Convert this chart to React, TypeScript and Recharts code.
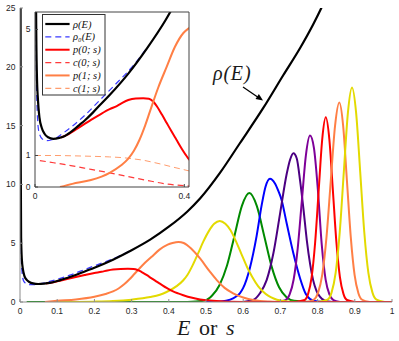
import React from 'react';
import { LineChart, Line, XAxis, YAxis, CartesianGrid, Legend, Customized } from 'recharts';

// ---------- data ----------
const rhoS = [0.001, 0.002, 0.003, 0.005, 0.008, 0.012, 0.018, 0.025, 0.035, 0.049, 0.065, 0.08, 0.1, 0.115, 0.134, 0.155, 0.174, 0.2, 0.25, 0.3, 0.35, 0.4, 0.45, 0.484, 0.538, 0.591, 0.654, 0.708, 0.753, 0.788, 0.81, 0.83];
const rhoV = [40, 12, 5.5, 3.6, 2.75, 2.2, 1.88, 1.7, 1.58, 1.53, 1.56, 1.62, 1.78, 1.93, 2.12, 2.36, 2.6, 2.92, 3.6, 4.4, 5.3, 6.4, 7.7, 8.8, 11.0, 13.5, 16.5, 19.3, 21.6, 23.6, 25.0, 26.4];

const rho0S = [0.002, 0.004, 0.006, 0.009, 0.013, 0.02, 0.03, 0.045, 0.06, 0.08, 0.1, 0.134, 0.174, 0.219, 0.263, 0.3];
const rho0V = [8, 3.3, 2.4, 1.85, 1.65, 1.52, 1.47, 1.5, 1.58, 1.75, 1.93, 2.28, 2.76, 3.3, 3.85, 4.42];

const p0S = [0.07, 0.09, 0.11, 0.129, 0.15, 0.174, 0.2, 0.219, 0.235, 0.25, 0.27, 0.29, 0.305, 0.316, 0.326, 0.34, 0.353, 0.366, 0.379, 0.394, 0.41, 0.425, 0.439, 0.46, 0.484, 0.51, 0.55, 0.6, 0.7, 1.0];
const p0V = [1.57, 1.68, 1.83, 1.97, 2.13, 2.3, 2.47, 2.57, 2.68, 2.76, 2.81, 2.82, 2.8, 2.72, 2.57, 2.3, 2.03, 1.76, 1.5, 1.2, 0.92, 0.73, 0.58, 0.38, 0.22, 0.12, 0.04, 0.01, 0, 0];

const p1S = [0.067, 0.1, 0.15, 0.2, 0.23, 0.25, 0.265, 0.28, 0.295, 0.308, 0.33, 0.353, 0.375, 0.397, 0.41, 0.426, 0.44, 0.46, 0.484, 0.51, 0.529, 0.55, 0.573, 0.6, 0.63, 0.67, 0.72];
const p1V = [0, 0.1, 0.22, 0.45, 0.68, 0.9, 1.15, 1.5, 1.95, 2.4, 3.15, 3.82, 4.45, 4.88, 5.02, 5.11, 5.02, 4.55, 3.7, 2.6, 1.86, 1.2, 0.74, 0.38, 0.15, 0.04, 0];

const p2S = [0.07, 0.15, 0.2, 0.25, 0.3, 0.35, 0.376, 0.394, 0.421, 0.439, 0.45, 0.466, 0.479, 0.493, 0.508, 0.522, 0.537, 0.552, 0.566, 0.58, 0.595, 0.61, 0.624, 0.64, 0.653, 0.668, 0.682, 0.7, 0.72, 0.76];
const p2V = [0, 0.01, 0.03, 0.08, 0.2, 0.42, 0.62, 0.85, 1.35, 1.85, 2.3, 3.25, 4.15, 5.15, 6.05, 6.65, 6.89, 6.65, 6.1, 5.2, 4.1, 3.0, 2.15, 1.35, 0.9, 0.52, 0.3, 0.12, 0.04, 0];

const p3S = [0.018, 0.45, 0.4965, 0.5165, 0.5365, 0.5565, 0.5765, 0.5965, 0.6165, 0.6365, 0.6565, 0.6765, 0.6965, 0.7165, 0.7365, 0.78];
const p3V = [0, 0, 0.12, 0.55, 1.45, 3.1, 5.62, 8.17, 9.26, 8.17, 5.62, 3.01, 1.25, 0.41, 0.1, 0];

const p4S = [0.5, 0.54, 0.565, 0.58, 0.591, 0.6, 0.618, 0.636, 0.65, 0.66, 0.672, 0.685, 0.695, 0.703, 0.717, 0.735, 0.753, 0.768, 0.78, 0.8, 0.82];
const p4V = [0, 0.05, 0.2, 0.45, 0.74, 1.2, 2.9, 5.6, 8.3, 9.8, 10.48, 10.1, 9.4, 8.7, 6.67, 4.12, 2.0, 0.7, 0.25, 0.04, 0];

const p5S = [0.6, 0.627, 0.645, 0.663, 0.681, 0.699, 0.717, 0.726, 0.735, 0.744, 0.753, 0.762, 0.771, 0.78, 0.788, 0.797, 0.806, 0.82, 0.84];
const p5V = [0, 0.17, 0.74, 1.86, 4.12, 7.5, 10.9, 12.1, 12.65, 12.2, 10.3, 7.9, 5.25, 3.2, 1.86, 0.95, 0.45, 0.1, 0];

const p6S = [0.69, 0.7136, 0.7246, 0.7356, 0.7466, 0.7576, 0.7686, 0.7796, 0.7901, 0.8006, 0.8111, 0.8216, 0.8321, 0.8426, 0.86];
const p6V = [0, 0.16, 0.62, 1.91, 4.59, 8.58, 12.49, 14.15, 13.1, 9.6, 4.9, 1.9, 0.62, 0.16, 0];

const p7S = [0.74, 0.765, 0.7745, 0.784, 0.7935, 0.803, 0.8125, 0.822, 0.8315, 0.841, 0.8505, 0.86, 0.8695, 0.879, 0.9];
const p7V = [0, 0.17, 0.69, 2.12, 5.1, 9.52, 13.86, 15.7, 13.86, 9.52, 5.1, 2.12, 0.69, 0.17, 0];

const p8S = [0.77, 0.7894, 0.8009, 0.8124, 0.8239, 0.8354, 0.8469, 0.8584, 0.8687, 0.8789, 0.8892, 0.8994, 0.9097, 0.9199, 0.94];
const p8V = [0, 0.19, 0.75, 2.3, 5.51, 10.29, 14.98, 16.97, 14.98, 10.29, 5.51, 2.3, 0.75, 0.19, 0];

const p9S = [0.8, 0.8265, 0.8375, 0.8485, 0.8595, 0.8705, 0.8815, 0.8925, 0.9035, 0.9145, 0.9255, 0.9365, 0.9475, 0.9585, 0.98];
const p9V = [0, 0.2, 0.8, 2.47, 5.93, 11.07, 16.11, 18.25, 16.11, 11.07, 5.93, 2.47, 0.8, 0.2, 0];

const c0S = [0.013, 0.05, 0.1, 0.15, 0.2, 0.25, 0.3, 0.35, 0.413];
const c0V = [0.84, 0.77, 0.67, 0.56, 0.45, 0.33, 0.21, 0.1, 0.03];

const c1S = [0, 0.05, 0.1, 0.15, 0.2, 0.24, 0.265, 0.29, 0.31, 0.34, 0.37, 0.39, 0.413];
const c1V = [1.0, 1.0, 0.99, 0.975, 0.955, 0.925, 0.89, 0.85, 0.8, 0.72, 0.63, 0.575, 0.51];

const mainXTicks = [0, 0.1, 0.2, 0.3, 0.4, 0.5, 0.6, 0.7, 0.8, 0.9, 1];
const mainXLabels = ['0', '0.1', '0.2', '0.3', '0.4', '0.5', '0.6', '0.7', '0.8', '0.9', '1'];
const mainYTicks = [0, 5, 10, 15, 20, 25];
const mainYLabels = ['0', '5', '10', '15', '20', '25'];
const insetXTicks = [0, 0.4];
const insetXLabels = ['0', '0.4'];
const insetYTicks = [0, 1, 5];
const insetYLabels = ['0', '1', '5'];

const legendNames = ['ρ(E)', 'ρ₀(E)', 'p(0; s)', 'c(0; s)', 'p(1; s)', 'c(1; s)'];
const xLabelParts = ['E', 'or', 's'];
const annotationText = 'ρ(E)';

// ---------- helpers ----------
const zip = (s: number[], v: number[]) => s.map((x, i) => ({ s: x, v: v[i] }));
const lookup = (ticks: number[], labels: string[], v: number) => {
  const i = ticks.findIndex((t) => Math.abs(t - v) < 1e-9);
  return i >= 0 ? labels[i] : String(v);
};

const TICK_FONT = "'Liberation Sans', Arial, sans-serif";
const SERIF = "'Liberation Serif', 'Times New Roman', serif";
const AXIS_GRAY = '#8c8c8c';
const TEXT_GRAY = '#262626';

const makeXTick = (ticks: number[], labels: string[], color: string) => (props: any) => {
  const { x, y, payload } = props;
  return (
    <g>
      <line x1={x} x2={x} y1={y} y2={y - 3} stroke={color} strokeWidth={1} />
      <text x={x} y={y + 12} textAnchor="middle" fontSize={8.5} fontFamily={TICK_FONT} fill={TEXT_GRAY}>
        {lookup(ticks, labels, payload.value)}
      </text>
    </g>
  );
};
const makeYTick = (ticks: number[], labels: string[], color: string) => (props: any) => {
  const { x, y, payload } = props;
  return (
    <g>
      <line x1={x} x2={x + 3} y1={y} y2={y} stroke={color} strokeWidth={1} />
      <text x={x - 4.5} y={y + 3} textAnchor="end" fontSize={8.5} fontFamily={TICK_FONT} fill={TEXT_GRAY}>
        {lookup(ticks, labels, payload.value)}
      </text>
    </g>
  );
};

const COLORS = {
  red: '#ff0000',
  orange: '#ff7f45',
  yellow: '#e3da00',
  green: '#008a00',
  blue: '#0000ff',
  indigo: '#4b0082',
  purple: '#7e0098',
  black: '#000000',
  rho0: '#3a3aff',
  c0: '#ff3a3a',
  c1: '#ff9d6e',
};

const peakSeries = [
  { key: 'p3', data: zip(p3S, p3V), color: COLORS.green },
  { key: 'p4', data: zip(p4S, p4V), color: COLORS.blue },
  { key: 'p5', data: zip(p5S, p5V), color: COLORS.indigo },
  { key: 'p6', data: zip(p6S, p6V), color: COLORS.purple },
  { key: 'p7', data: zip(p7S, p7V), color: COLORS.red },
  { key: 'p8', data: zip(p8S, p8V), color: COLORS.orange },
  { key: 'p9', data: zip(p9S, p9V), color: COLORS.yellow },
  { key: 'p2', data: zip(p2S, p2V), color: COLORS.yellow },
  { key: 'p1', data: zip(p1S, p1V), color: COLORS.orange },
  { key: 'p0', data: zip(p0S, p0V), color: COLORS.red },
];

const Annotations = () => (
  <g>
    <text x={213} y={80} fontSize={20} fontFamily={SERIF} fontStyle="italic" fill="#1a1a1a" letterSpacing={0.8}>
      {annotationText}
    </text>
    <line x1={243} y1={87} x2={258} y2={97.3} stroke="#000" strokeWidth={1.3} />
    <polygon points="263,100.5 255.5,99 258.9,94" fill="#000" />
    <text y={335} fontSize={22} fontFamily={SERIF} fill="#1a1a1a">
      <tspan x={177} fontStyle="italic">{xLabelParts[0]}</tspan>
      <tspan x={199}>{xLabelParts[1]}</tspan>
      <tspan x={226} fontStyle="italic">{xLabelParts[2]}</tspan>
    </text>
  </g>
);

const LegendBox = (props: any) => {
  const payload: any[] = props.payload || [];
  return (
    <svg width={64} height={82} style={{ display: 'block' }}>
      <rect x={0.5} y={0.5} width={62.5} height={80.5} fill="#fff" stroke="#333" strokeWidth={1} />
      {legendNames.map((name, i) => {
        const e = payload.find((p) => p.value === name);
        if (!e) return null;
        const cy = 10 + i * 12.86;
        const dash = e.payload && e.payload.strokeDasharray;
        const sw = (e.payload && e.payload.strokeWidth) || 2;
        return (
          <g key={name}>
            <line x1={3.3} x2={27.6} y1={cy} y2={cy} stroke={e.color} strokeWidth={Math.max(sw, 1.3)} strokeDasharray={dash} />
            <text x={31} y={cy + 3.5} fontSize={10.5} fontFamily={SERIF} fontStyle="italic" fill="#111">
              {name}
            </text>
          </g>
        );
      })}
    </svg>
  );
};

const mainXTick = makeXTick(mainXTicks, mainXLabels, AXIS_GRAY);
const mainYTick = makeYTick(mainYTicks, mainYLabels, AXIS_GRAY);
const insetXTick = makeXTick(insetXTicks, insetXLabels, '#444');
const insetYTick = makeYTick(insetYTicks, insetYLabels, '#444');

export default function App() {
  return (
    <div style={{ position: 'absolute', left: 0, top: 0, width: 399, height: 341, background: '#fff' }}>
      <LineChart width={399} height={341} margin={{ top: 8, right: 7, left: 0, bottom: 0 }}>
        <XAxis
          type="number"
          dataKey="s"
          domain={[0, 1]}
          ticks={mainXTicks}
          interval={0}
          allowDataOverflow
          height={39}
          tickSize={0}
          tickMargin={0}
          tickLine={false}
          axisLine={{ stroke: AXIS_GRAY, strokeWidth: 1 }}
          tick={mainXTick}
        />
        <YAxis
          type="number"
          domain={[0, 25]}
          ticks={mainYTicks}
          interval={0}
          allowDataOverflow
          width={20}
          tickSize={0}
          tickMargin={0}
          tickLine={false}
          axisLine={{ stroke: AXIS_GRAY, strokeWidth: 1 }}
          tick={mainYTick}
        />
        {peakSeries.map((p) => (
          <Line key={p.key} data={p.data} dataKey="v" type="monotone" stroke={p.color} strokeWidth={2} dot={false} activeDot={false} isAnimationActive={false} />
        ))}
        <Line data={zip(rho0S, rho0V)} dataKey="v" type="monotone" stroke={COLORS.rho0} strokeWidth={1.3} strokeDasharray="6 4" dot={false} activeDot={false} isAnimationActive={false} />
        <Line data={zip(rhoS, rhoV)} dataKey="v" type="monotone" stroke={COLORS.black} strokeWidth={2.2} dot={false} activeDot={false} isAnimationActive={false} />
        <Customized component={<Annotations />} />
      </LineChart>

      <div style={{ position: 'absolute', left: 19, top: 11, width: 172, height: 191 }}>
        <LineChart width={172} height={191} margin={{ top: 0, right: 0, left: 0, bottom: 0 }}>
          <CartesianGrid horizontal={false} vertical={false} fill="#fff" />
          <XAxis
            type="number"
            dataKey="s"
            domain={[0, 0.4126]}
            ticks={insetXTicks}
            interval={0}
            allowDataOverflow
            height={15}
            tickSize={0}
            tickMargin={0}
            tickLine={false}
            axisLine={{ stroke: '#444', strokeWidth: 1 }}
            tick={insetXTick}
          />
          <YAxis
            type="number"
            domain={[0, 5.554]}
            ticks={insetYTicks}
            interval={0}
            allowDataOverflow
            width={16}
            tickSize={0}
            tickMargin={0}
            tickLine={false}
            axisLine={{ stroke: '#444', strokeWidth: 1 }}
            tick={insetYTick}
          />
          <XAxis xAxisId="top" orientation="top" type="number" domain={[0, 0.4126]} allowDataOverflow height={1} tick={false} tickLine={false} axisLine={{ stroke: '#444', strokeWidth: 1 }} />
          <YAxis yAxisId="right" orientation="right" type="number" domain={[0, 5.554]} allowDataOverflow width={2} tick={false} tickLine={false} axisLine={{ stroke: '#444', strokeWidth: 1 }} />
          <Line name={legendNames[5]} data={zip(c1S, c1V)} dataKey="v" type="monotone" stroke={COLORS.c1} strokeWidth={1} strokeDasharray="6 4" dot={false} activeDot={false} isAnimationActive={false} />
          <Line name={legendNames[3]} data={zip(c0S, c0V)} dataKey="v" type="monotone" stroke={COLORS.c0} strokeWidth={1.2} strokeDasharray="6 4" dot={false} activeDot={false} isAnimationActive={false} />
          <Line name={legendNames[2]} data={zip(p0S, p0V)} dataKey="v" type="monotone" stroke={COLORS.red} strokeWidth={2} dot={false} activeDot={false} isAnimationActive={false} />
          <Line name={legendNames[4]} data={zip(p1S, p1V)} dataKey="v" type="monotone" stroke={COLORS.orange} strokeWidth={2} dot={false} activeDot={false} isAnimationActive={false} />
          <Line name={legendNames[1]} data={zip(rho0S, rho0V)} dataKey="v" type="monotone" stroke={COLORS.rho0} strokeWidth={1.2} strokeDasharray="6 4" dot={false} activeDot={false} isAnimationActive={false} />
          <Line name={legendNames[0]} data={zip(rhoS, rhoV)} dataKey="v" type="monotone" stroke={COLORS.black} strokeWidth={2.2} dot={false} activeDot={false} isAnimationActive={false} />
          <Legend
            layout="horizontal"
            verticalAlign="middle"
            align="center"
            content={<LegendBox />}
            wrapperStyle={{ position: 'absolute', left: 22.7, top: 3, width: 64, height: 82, margin: 0, padding: 0 }}
          />
        </LineChart>
      </div>
    </div>
  );
}
